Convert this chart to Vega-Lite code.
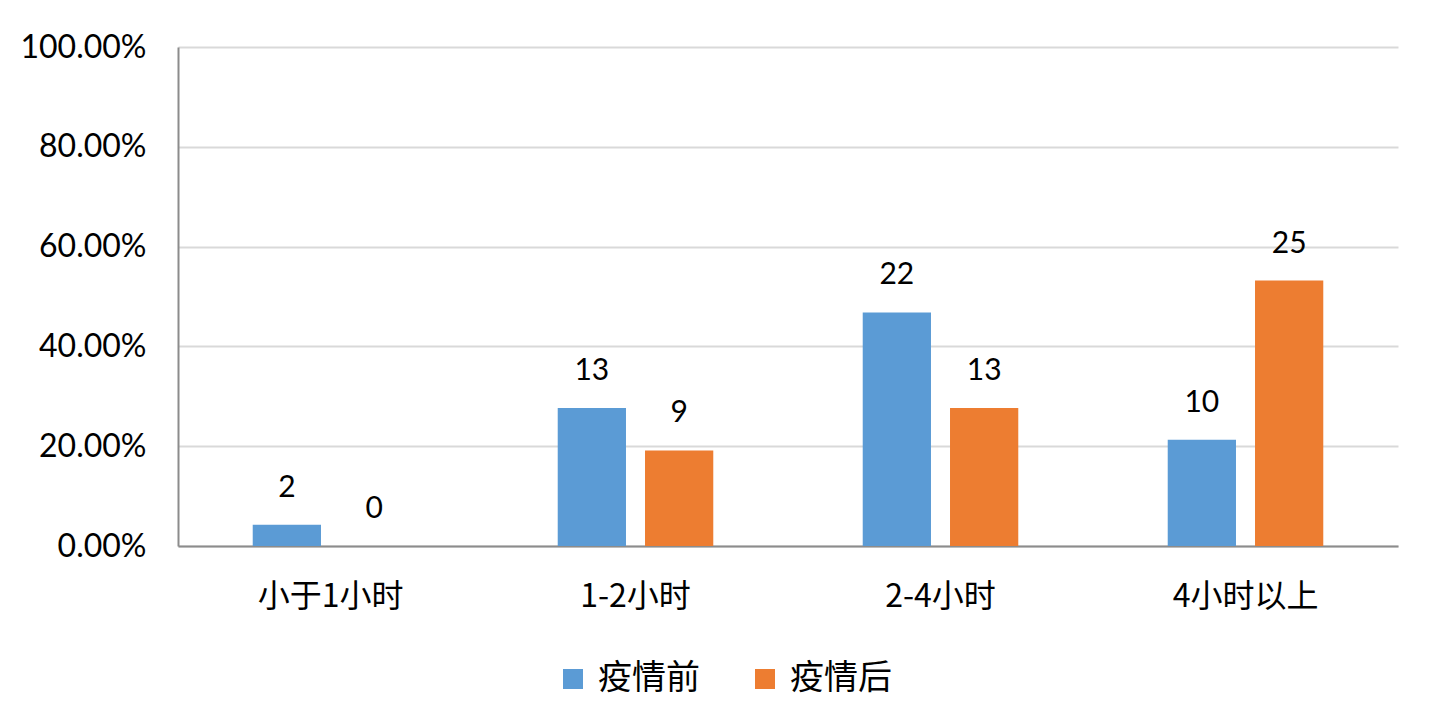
{
  "$schema": "https://vega.github.io/schema/vega-lite/v6.json",
  "autosize": "none",
  "width": 1220,
  "height": 499,
  "padding": {"left": 178, "top": 47, "right": 32, "bottom": 162},
  "background": "white",
  "data": {
    "values": [
      {"cat": "小于1小时", "series": "疫情前", "pct": 0.0426, "n": 2},
      {"cat": "小于1小时", "series": "疫情后", "pct": 0.0, "n": 0},
      {"cat": "1-2小时", "series": "疫情前", "pct": 0.2766, "n": 13},
      {"cat": "1-2小时", "series": "疫情后", "pct": 0.1915, "n": 9},
      {"cat": "2-4小时", "series": "疫情前", "pct": 0.4681, "n": 22},
      {"cat": "2-4小时", "series": "疫情后", "pct": 0.2766, "n": 13},
      {"cat": "4小时以上", "series": "疫情前", "pct": 0.2128, "n": 10},
      {"cat": "4小时以上", "series": "疫情后", "pct": 0.5319, "n": 25}
    ]
  },
  "config": {
    "view": {"stroke": null},
    "font": "Lato"
  },
  "encoding": {
    "x": {
      "field": "cat",
      "type": "nominal",
      "sort": null,
      "title": null,
      "scale": {"paddingInner": 0.49, "paddingOuter": 0.245},
      "axis": {
        "labelAngle": 0,
        "labelFont": "Noto Sans CJK SC",
        "labelFontSize": 32,
        "labelColor": "#000000",
        "labelPadding": 35,
        "ticks": false,
        "domainColor": "#8c8c8c",
        "domainWidth": 2,
        "grid": false
      }
    },
    "xOffset": {
      "field": "series",
      "type": "nominal",
      "sort": ["疫情前", "疫情后"],
      "scale": {"paddingInner": 0.218, "paddingOuter": 0}
    },
    "y": {
      "field": "pct",
      "type": "quantitative",
      "title": null,
      "scale": {"domain": [0, 1], "nice": false},
      "axis": {
        "values": [0, 0.2, 0.4, 0.6, 0.8, 1],
        "format": ".2%",
        "labelFont": "Lato",
        "labelFontSize": 32,
        "labelColor": "#000000",
        "labelPadding": 32,
        "ticks": false,
        "domainColor": "#8c8c8c",
        "domainWidth": 2,
        "gridColor": "#d9d9d9",
        "gridWidth": 2
      }
    }
  },
  "layer": [
    {
      "mark": {"type": "bar"},
      "encoding": {
        "color": {
          "field": "series",
          "type": "nominal",
          "sort": ["疫情前", "疫情后"],
          "scale": {"domain": ["疫情前", "疫情后"], "range": ["#5B9BD5", "#ED7D31"]},
          "legend": {
            "title": null,
            "orient": "none",
            "legendX": 378,
            "legendY": 615,
            "direction": "horizontal",
            "columns": 2,
            "symbolType": "square",
            "symbolSize": 400,
            "symbolStrokeWidth": 0,
            "labelFont": "Noto Sans CJK SC",
            "labelFontSize": 34,
            "labelColor": "#000000",
            "labelOffset": 8,
            "columnPadding": 48,
            "labelLimit": 300
          }
        }
      }
    },
    {
      "mark": {"type": "text", "baseline": "middle", "dy": -37, "fontSize": 30, "font": "Lato", "color": "#000000"},
      "encoding": {
        "text": {"field": "n", "type": "quantitative"}
      }
    }
  ]
}
